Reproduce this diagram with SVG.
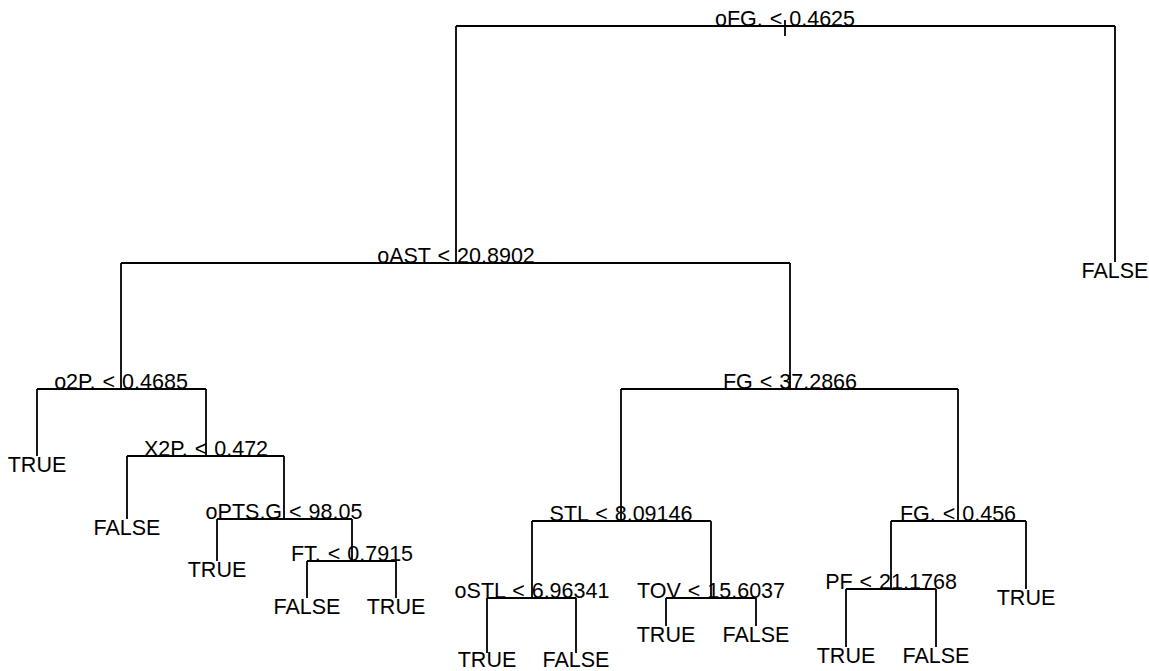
<svg xmlns="http://www.w3.org/2000/svg" width="1149" height="671" viewBox="0 0 1149 671">
<style>
.c{fill:none;stroke:#000;stroke-width:1.8;stroke-linecap:butt}
text{font-family:"Liberation Sans",Arial,Helvetica,sans-serif;font-size:21.5px;fill:#000;text-anchor:middle}
.s{word-spacing:1px}
</style>
<rect width="1149" height="671" fill="#fff"/>
<g id="connectors" class="c">
<path d="M785 20V36"/>
<path d="M456 26H1115M456 26V263M1115 26V262"/>
<path d="M121 263H790M121 263V389M790 263V389"/>
<path d="M37 389H206M37 389V456M206 389V456"/>
<path d="M127 456H284M127 456V519M284 456V519"/>
<path d="M217 519H352M217 519V561M352 519V561"/>
<path d="M307 561H396M307 561V598M396 561V598"/>
<path d="M621 389H958M621 389V521M958 389V521"/>
<path d="M532 521H711M532 521V598M711 521V598"/>
<path d="M487 598H576M487 598V653M576 598V653"/>
<path d="M666 598H756M666 598V626M756 598V626"/>
<path d="M891 521H1026M891 521V589M1026 521V589"/>
<path d="M846 589H936M846 589V647M936 589V647"/>
</g>
<g id="n-root"><text class="s" x="785" y="25.5">oFG. &lt; 0.4625</text></g>
<g id="n-oAST"><text class="s" x="456" y="262.5">oAST &lt; 20.8902</text></g>
<g id="n-leaf-false-1"><text x="1115" y="278">FALSE</text></g>
<g id="n-o2P"><text class="s" x="121" y="388.5">o2P. &lt; 0.4685</text></g>
<g id="n-leaf-true-1"><text x="37" y="472">TRUE</text></g>
<g id="n-X2P"><text class="s" x="206" y="455.5">X2P. &lt; 0.472</text></g>
<g id="n-leaf-false-2"><text x="127" y="535">FALSE</text></g>
<g id="n-oPTS"><text class="s" x="284" y="518.5">oPTS.G &lt; 98.05</text></g>
<g id="n-leaf-true-2"><text x="217" y="577">TRUE</text></g>
<g id="n-FT"><text class="s" x="352" y="560.5">FT. &lt; 0.7915</text></g>
<g id="n-leaf-false-3"><text x="307" y="614">FALSE</text></g>
<g id="n-leaf-true-3"><text x="396" y="614">TRUE</text></g>
<g id="n-FG"><text class="s" x="790" y="388.5">FG &lt; 37.2866</text></g>
<g id="n-STL"><text class="s" x="621" y="520.5">STL &lt; 8.09146</text></g>
<g id="n-oSTL"><text class="s" x="532" y="597.5">oSTL &lt; 6.96341</text></g>
<g id="n-leaf-true-4"><text x="487" y="667">TRUE</text></g>
<g id="n-leaf-false-4"><text x="576" y="667">FALSE</text></g>
<g id="n-TOV"><text class="s" x="711" y="597.5">TOV &lt; 15.6037</text></g>
<g id="n-leaf-true-5"><text x="666" y="642">TRUE</text></g>
<g id="n-leaf-false-5"><text x="756" y="642">FALSE</text></g>
<g id="n-FGp"><text class="s" x="958" y="520.5">FG. &lt; 0.456</text></g>
<g id="n-PF"><text class="s" x="891" y="588.5">PF &lt; 21.1768</text></g>
<g id="n-leaf-true-6"><text x="846" y="663">TRUE</text></g>
<g id="n-leaf-false-6"><text x="936" y="663">FALSE</text></g>
<g id="n-leaf-true-7"><text x="1026" y="605">TRUE</text></g>
</svg>
